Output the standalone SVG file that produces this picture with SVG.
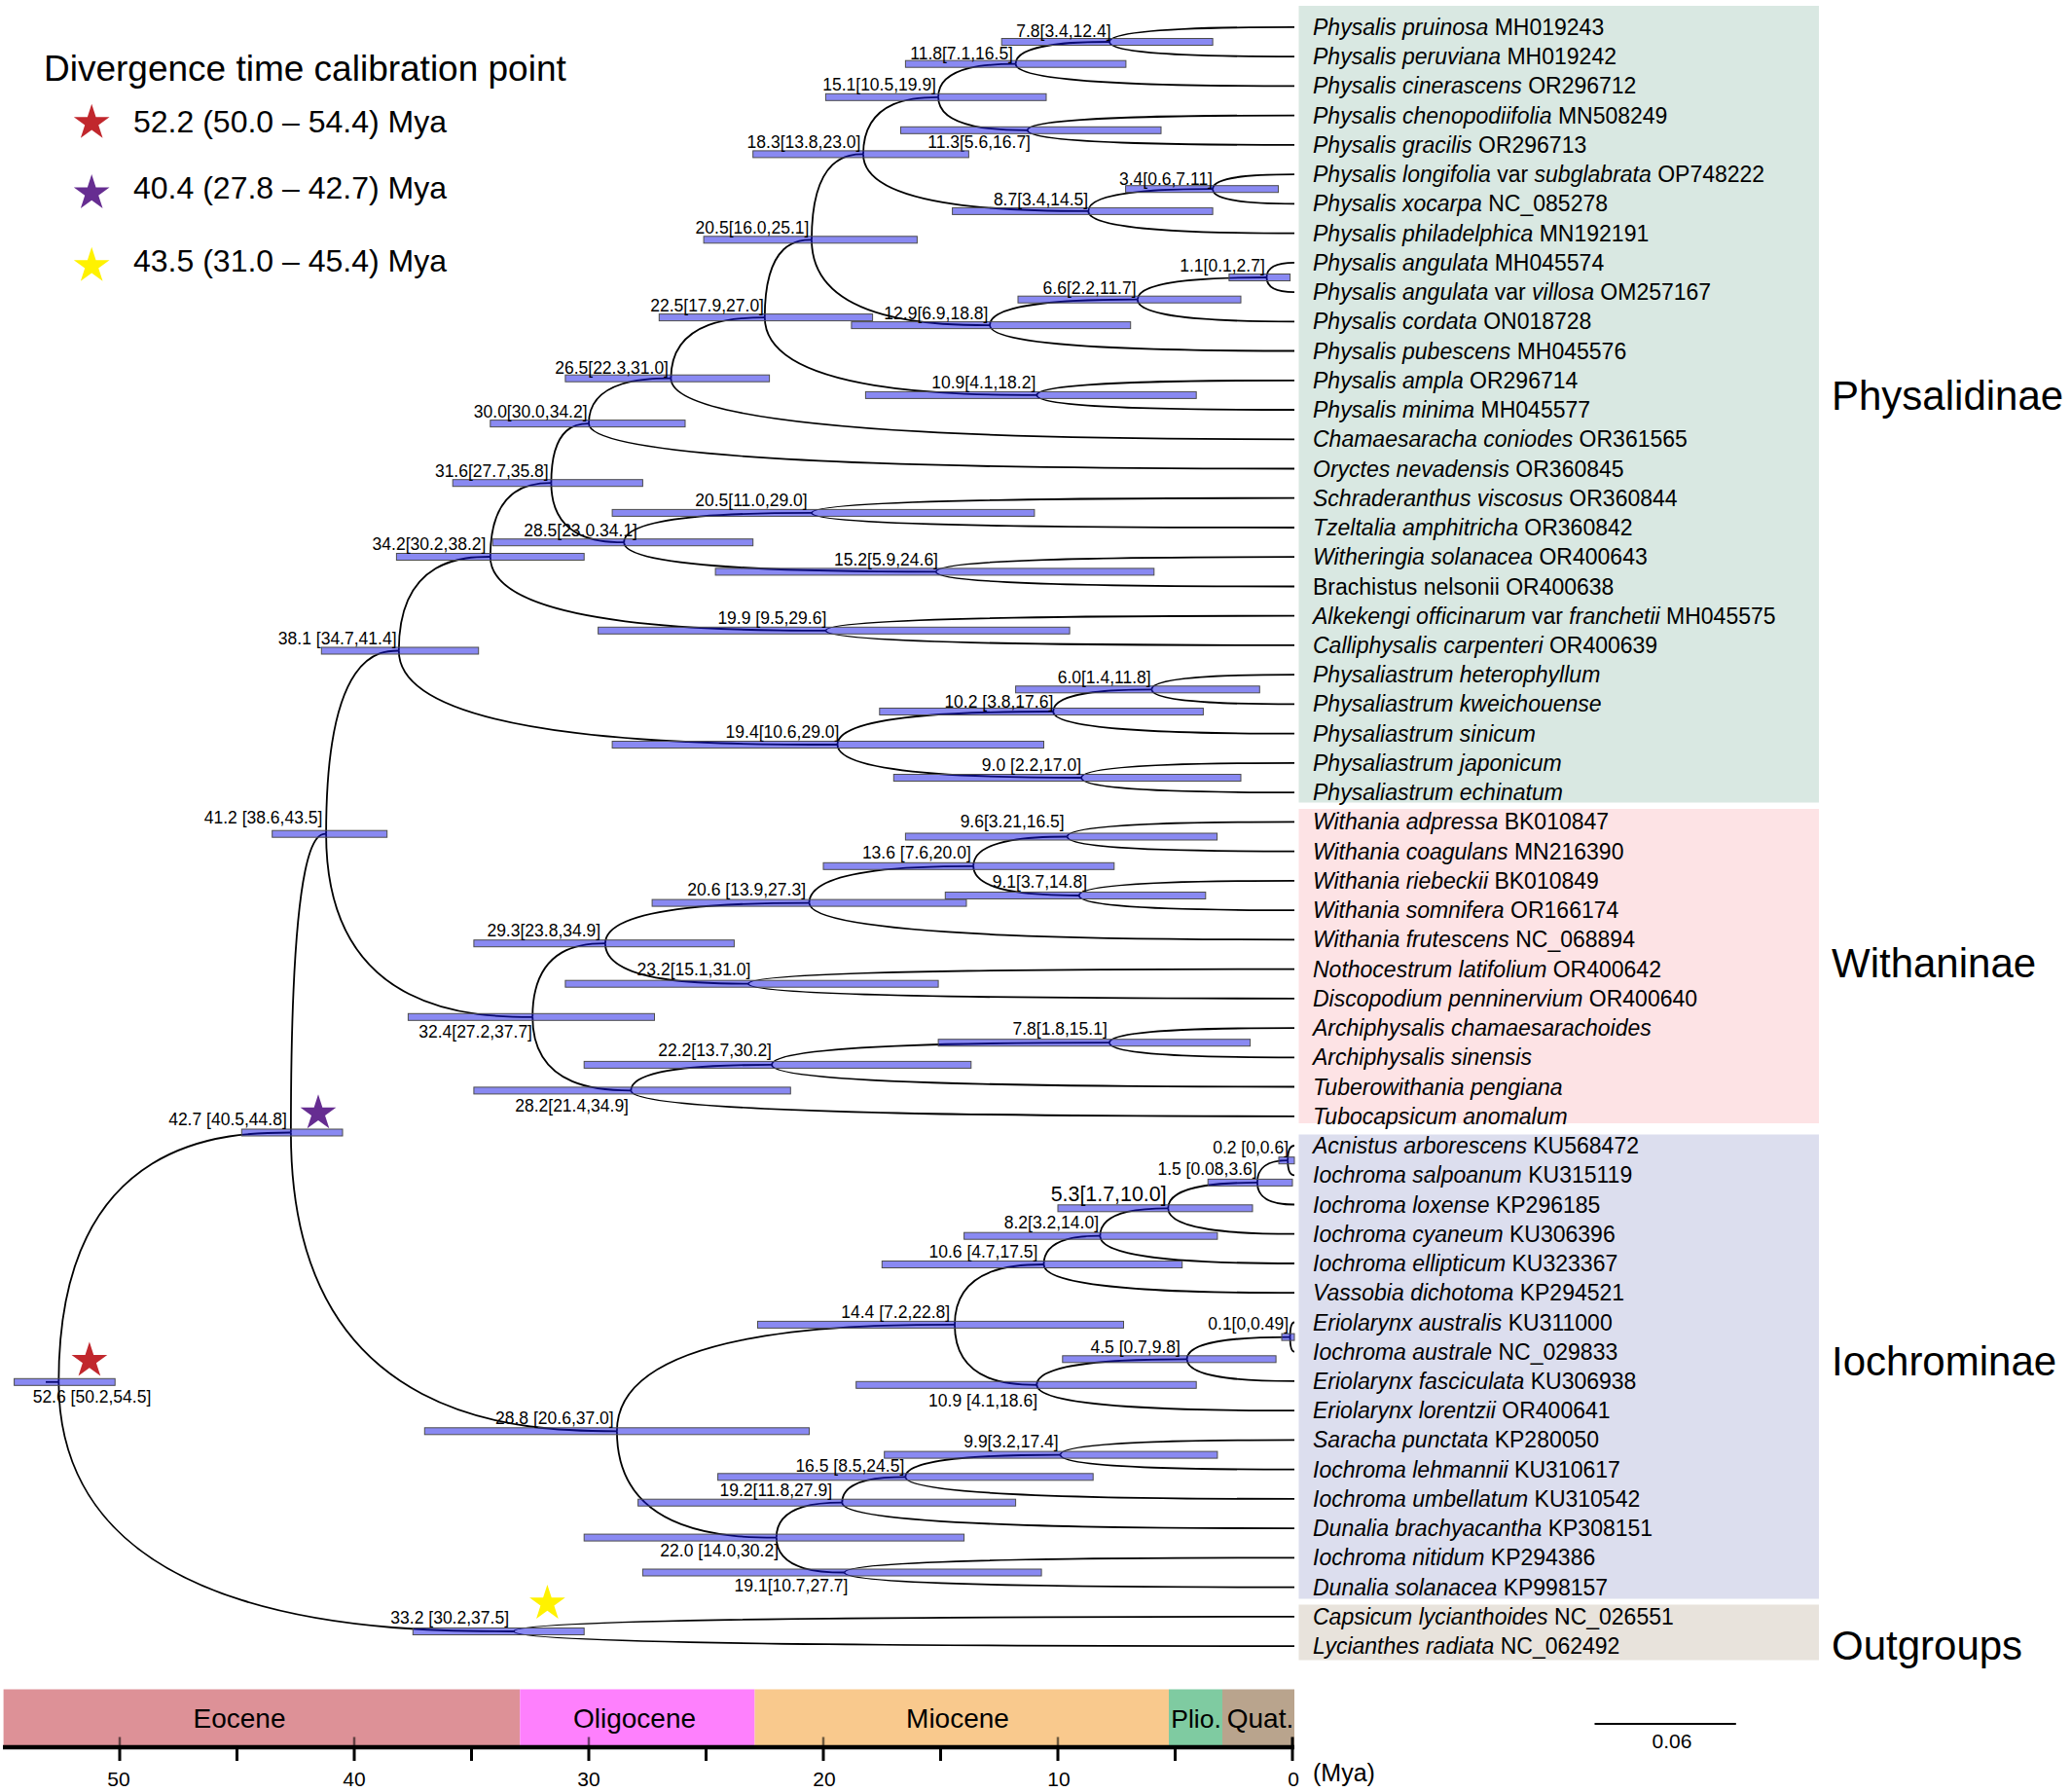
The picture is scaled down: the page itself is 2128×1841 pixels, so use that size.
<svg xmlns="http://www.w3.org/2000/svg" width="2128" height="1841" viewBox="0 0 2128 1841">
<defs>
<style>
text{font-family:"Liberation Sans",Arial,sans-serif;fill:#000}
.leaf{font-size:23px}
.i{font-style:italic}
.lab{font-size:17.5px;text-anchor:end}
.clade{font-size:42px}
.br{fill:none;stroke:#000;stroke-width:1.8}
.bar{fill:#1414e6;fill-opacity:0.5;stroke:#4d4d4d;stroke-width:1}
.ep{font-size:28px;text-anchor:middle}
.tk{font-size:21px;text-anchor:middle}
.mj{stroke:#000;stroke-width:3}
.up{stroke:#000;stroke-opacity:0.55;stroke-width:2.5}
</style>
<polygon id="star" points="0,-19.3 4.33,-5.96 18.36,-5.96 7.01,2.28 11.34,15.61 0,7.37 -11.34,15.61 -7.01,2.28 -18.36,-5.96 -4.33,-5.96"/>
</defs>
<rect width="2128" height="1841" fill="#fff"/>
<g id="clade-boxes">
<rect x="1334.5" y="6" width="534.5" height="818.5" fill="#d9e8e2"/>
<rect x="1334.5" y="831" width="534.5" height="323" fill="#fde3e5"/>
<rect x="1334.5" y="1165.5" width="534.5" height="477" fill="#dcdeee"/>
<rect x="1334.5" y="1648.5" width="534.5" height="57" fill="#e8e3dc"/>
</g>
<g id="connectors">
<path class="br" d="M1140 43 C1140 27.9 1280.6 27.9 1330 27.9"/>
<path class="br" d="M1140 43 C1140 58.1 1280.6 58.1 1330 58.1"/>
<path class="br" d="M1043.6 65.7 C1043.6 43 1114.9 43 1140 43"/>
<path class="br" d="M1043.6 65.7 C1043.6 88.4 1255.5 88.4 1330 88.4"/>
<path class="br" d="M1055.7 133.8 C1055.7 118.6 1258.7 118.6 1330 118.6"/>
<path class="br" d="M1055.7 133.8 C1055.7 148.9 1258.7 148.9 1330 148.9"/>
<path class="br" d="M964.1 99.8 C964.1 65.7 1022.9 65.7 1043.6 65.7"/>
<path class="br" d="M964.1 99.8 C964.1 133.8 1031.9 133.8 1055.7 133.8"/>
<path class="br" d="M1246.1 194.2 C1246.1 179.1 1308.2 179.1 1330 179.1"/>
<path class="br" d="M1246.1 194.2 C1246.1 209.3 1308.2 209.3 1330 209.3"/>
<path class="br" d="M1118.3 216.9 C1118.3 194.2 1212.9 194.2 1246.1 194.2"/>
<path class="br" d="M1118.3 216.9 C1118.3 239.6 1275 239.6 1330 239.6"/>
<path class="br" d="M887 158.4 C887 99.8 944.1 99.8 964.1 99.8"/>
<path class="br" d="M887 158.4 C887 216.9 1058.2 216.9 1118.3 216.9"/>
<path class="br" d="M1301.5 285 C1301.5 269.8 1322.6 269.8 1330 269.8"/>
<path class="br" d="M1301.5 285 C1301.5 300.1 1322.6 300.1 1330 300.1"/>
<path class="br" d="M1168.9 307.7 C1168.9 285 1267 285 1301.5 285"/>
<path class="br" d="M1168.9 307.7 C1168.9 330.3 1288.1 330.3 1330 330.3"/>
<path class="br" d="M1017.1 334.1 C1017.1 307.7 1129.4 307.7 1168.9 307.7"/>
<path class="br" d="M1017.1 334.1 C1017.1 360.5 1248.6 360.5 1330 360.5"/>
<path class="br" d="M834 246.3 C834 158.4 873.2 158.4 887 158.4"/>
<path class="br" d="M834 246.3 C834 334.1 969.5 334.1 1017.1 334.1"/>
<path class="br" d="M1065.3 405.9 C1065.3 390.8 1261.2 390.8 1330 390.8"/>
<path class="br" d="M1065.3 405.9 C1065.3 421 1261.2 421 1330 421"/>
<path class="br" d="M785.8 326.1 C785.8 246.3 821.5 246.3 834 246.3"/>
<path class="br" d="M785.8 326.1 C785.8 405.9 992.6 405.9 1065.3 405.9"/>
<path class="br" d="M689.4 388.7 C689.4 326.1 760.7 326.1 785.8 326.1"/>
<path class="br" d="M689.4 388.7 C689.4 451.3 1163.4 451.3 1330 451.3"/>
<path class="br" d="M605 435.1 C605 388.7 667.5 388.7 689.4 388.7"/>
<path class="br" d="M605 435.1 C605 481.5 1141.5 481.5 1330 481.5"/>
<path class="br" d="M834 526.9 C834 511.7 1201 511.7 1330 511.7"/>
<path class="br" d="M834 526.9 C834 542 1201 542 1330 542"/>
<path class="br" d="M961.7 587.4 C961.7 572.2 1234.2 572.2 1330 572.2"/>
<path class="br" d="M961.7 587.4 C961.7 602.5 1234.2 602.5 1330 602.5"/>
<path class="br" d="M641.2 557.2 C641.2 526.9 783.9 526.9 834 526.9"/>
<path class="br" d="M641.2 557.2 C641.2 587.4 878.4 587.4 961.7 587.4"/>
<path class="br" d="M566.4 496.2 C566.4 435.1 595 435.1 605 435.1"/>
<path class="br" d="M566.4 496.2 C566.4 557.2 621.8 557.2 641.2 557.2"/>
<path class="br" d="M848.4 647.8 C848.4 632.7 1204.8 632.7 1330 632.7"/>
<path class="br" d="M848.4 647.8 C848.4 662.9 1204.8 662.9 1330 662.9"/>
<path class="br" d="M503.8 572 C503.8 496.2 550.1 496.2 566.4 496.2"/>
<path class="br" d="M503.8 572 C503.8 647.8 758.8 647.8 848.4 647.8"/>
<path class="br" d="M1183.4 708.3 C1183.4 693.2 1291.9 693.2 1330 693.2"/>
<path class="br" d="M1183.4 708.3 C1183.4 723.4 1291.9 723.4 1330 723.4"/>
<path class="br" d="M1082.2 731 C1082.2 708.3 1157.1 708.3 1183.4 708.3"/>
<path class="br" d="M1082.2 731 C1082.2 753.7 1265.6 753.7 1330 753.7"/>
<path class="br" d="M1111.1 799 C1111.1 783.9 1273.1 783.9 1330 783.9"/>
<path class="br" d="M1111.1 799 C1111.1 814.1 1273.1 814.1 1330 814.1"/>
<path class="br" d="M860.5 765 C860.5 731 1024.6 731 1082.2 731"/>
<path class="br" d="M860.5 765 C860.5 799 1045.9 799 1111.1 799"/>
<path class="br" d="M409.8 668.5 C409.8 572 479.4 572 503.8 572"/>
<path class="br" d="M409.8 668.5 C409.8 765 743.3 765 860.5 765"/>
<path class="br" d="M1096.6 859.5 C1096.6 844.4 1269.3 844.4 1330 844.4"/>
<path class="br" d="M1096.6 859.5 C1096.6 874.6 1269.3 874.6 1330 874.6"/>
<path class="br" d="M1108.7 920 C1108.7 904.9 1272.5 904.9 1330 904.9"/>
<path class="br" d="M1108.7 920 C1108.7 935.1 1272.5 935.1 1330 935.1"/>
<path class="br" d="M1000.2 889.8 C1000.2 859.5 1071.5 859.5 1096.6 859.5"/>
<path class="br" d="M1000.2 889.8 C1000.2 920 1080.5 920 1108.7 920"/>
<path class="br" d="M831.5 927.6 C831.5 889.8 956.3 889.8 1000.2 889.8"/>
<path class="br" d="M831.5 927.6 C831.5 965.3 1200.4 965.3 1330 965.3"/>
<path class="br" d="M768.9 1010.7 C768.9 995.6 1184.1 995.6 1330 995.6"/>
<path class="br" d="M768.9 1010.7 C768.9 1025.8 1184.1 1025.8 1330 1025.8"/>
<path class="br" d="M621.9 969.2 C621.9 927.6 777 927.6 831.5 927.6"/>
<path class="br" d="M621.9 969.2 C621.9 1010.7 730.7 1010.7 768.9 1010.7"/>
<path class="br" d="M1140 1071.2 C1140 1056.1 1280.6 1056.1 1330 1056.1"/>
<path class="br" d="M1140 1071.2 C1140 1086.3 1280.6 1086.3 1330 1086.3"/>
<path class="br" d="M793 1093.9 C793 1071.2 1049.8 1071.2 1140 1071.2"/>
<path class="br" d="M793 1093.9 C793 1116.5 1190.4 1116.5 1330 1116.5"/>
<path class="br" d="M648.4 1120.4 C648.4 1093.9 755.4 1093.9 793 1093.9"/>
<path class="br" d="M648.4 1120.4 C648.4 1146.8 1152.8 1146.8 1330 1146.8"/>
<path class="br" d="M547.2 1044.8 C547.2 969.2 602.5 969.2 621.9 969.2"/>
<path class="br" d="M547.2 1044.8 C547.2 1120.4 622.1 1120.4 648.4 1120.4"/>
<path class="br" d="M335.1 856.7 C335.1 668.5 390.4 668.5 409.8 668.5"/>
<path class="br" d="M335.1 856.7 C335.1 1044.8 492.1 1044.8 547.2 1044.8"/>
<path class="br" d="M1323.2 1192.2 C1323.2 1177 1328.2 1177 1330 1177"/>
<path class="br" d="M1323.2 1192.2 C1323.2 1207.3 1328.2 1207.3 1330 1207.3"/>
<path class="br" d="M1291.9 1214.9 C1291.9 1192.2 1315.1 1192.2 1323.2 1192.2"/>
<path class="br" d="M1291.9 1214.9 C1291.9 1237.5 1320.1 1237.5 1330 1237.5"/>
<path class="br" d="M1200.3 1241.3 C1200.3 1214.9 1268.1 1214.9 1291.9 1214.9"/>
<path class="br" d="M1200.3 1241.3 C1200.3 1267.7 1296.3 1267.7 1330 1267.7"/>
<path class="br" d="M1130.4 1269.7 C1130.4 1241.3 1182.1 1241.3 1200.3 1241.3"/>
<path class="br" d="M1130.4 1269.7 C1130.4 1298 1278.1 1298 1330 1298"/>
<path class="br" d="M1072.5 1299 C1072.5 1269.7 1115.3 1269.7 1130.4 1269.7"/>
<path class="br" d="M1072.5 1299 C1072.5 1328.2 1263.1 1328.2 1330 1328.2"/>
<path class="br" d="M1325.6 1373.6 C1325.6 1358.5 1328.9 1358.5 1330 1358.5"/>
<path class="br" d="M1325.6 1373.6 C1325.6 1388.7 1328.9 1388.7 1330 1388.7"/>
<path class="br" d="M1219.6 1396.3 C1219.6 1373.6 1298 1373.6 1325.6 1373.6"/>
<path class="br" d="M1219.6 1396.3 C1219.6 1418.9 1301.3 1418.9 1330 1418.9"/>
<path class="br" d="M1065.3 1422.8 C1065.3 1396.3 1179.5 1396.3 1219.6 1396.3"/>
<path class="br" d="M1065.3 1422.8 C1065.3 1449.2 1261.2 1449.2 1330 1449.2"/>
<path class="br" d="M981 1360.9 C981 1299 1048.7 1299 1072.5 1299"/>
<path class="br" d="M981 1360.9 C981 1422.8 1043.4 1422.8 1065.3 1422.8"/>
<path class="br" d="M1089.4 1494.6 C1089.4 1479.4 1267.4 1479.4 1330 1479.4"/>
<path class="br" d="M1089.4 1494.6 C1089.4 1509.7 1267.4 1509.7 1330 1509.7"/>
<path class="br" d="M930.4 1517.3 C930.4 1494.6 1048.1 1494.6 1089.4 1494.6"/>
<path class="br" d="M930.4 1517.3 C930.4 1539.9 1226.1 1539.9 1330 1539.9"/>
<path class="br" d="M865.3 1543.7 C865.3 1517.3 913.5 1517.3 930.4 1517.3"/>
<path class="br" d="M865.3 1543.7 C865.3 1570.1 1209.2 1570.1 1330 1570.1"/>
<path class="br" d="M867.7 1615.5 C867.7 1600.4 1209.8 1600.4 1330 1600.4"/>
<path class="br" d="M867.7 1615.5 C867.7 1630.6 1209.8 1630.6 1330 1630.6"/>
<path class="br" d="M797.8 1579.6 C797.8 1543.7 847.8 1543.7 865.3 1543.7"/>
<path class="br" d="M797.8 1579.6 C797.8 1615.5 849.5 1615.5 867.7 1615.5"/>
<path class="br" d="M633.9 1470.3 C633.9 1360.9 890.8 1360.9 981 1360.9"/>
<path class="br" d="M633.9 1470.3 C633.9 1579.6 755.2 1579.6 797.8 1579.6"/>
<path class="br" d="M298.9 1163.5 C298.9 856.7 325.7 856.7 335.1 856.7"/>
<path class="br" d="M298.9 1163.5 C298.9 1470.3 546.8 1470.3 633.9 1470.3"/>
<path class="br" d="M527.9 1676 C527.9 1660.9 1121.5 1660.9 1330 1660.9"/>
<path class="br" d="M527.9 1676 C527.9 1691.1 1121.5 1691.1 1330 1691.1"/>
<path class="br" d="M60.3 1419.8 C60.3 1163.5 236.9 1163.5 298.9 1163.5"/>
<path class="br" d="M60.3 1419.8 C60.3 1676 406.3 1676 527.9 1676"/>
<path class="br" d="M47 1419.8 H60.3"/>
</g>
<g id="nodes">
<g id="n7-8a"><rect class="bar" x="1029.2" y="39.5" width="216.9" height="7"/><text class="lab" x="1141.5" y="38.4">7.8[3.4,12.4]</text></g>
<g id="n11-8"><rect class="bar" x="930.4" y="62.2" width="226.5" height="7"/><text class="lab" x="1041" y="60.5">11.8[7.1,16.5]</text></g>
<g id="n11-3"><rect class="bar" x="925.5" y="130.3" width="267.5" height="7"/><text class="lab" x="1059" y="152.2">11.3[5.6,16.7]</text></g>
<g id="n15-1"><rect class="bar" x="848.4" y="96.3" width="226.6" height="7"/><text class="lab" x="962" y="93.3">15.1[10.5,19.9]</text></g>
<g id="n3-4"><rect class="bar" x="1156.6" y="190.7" width="156.9" height="7"/><text class="lab" x="1246" y="189.8">3.4[0.6,7.11]</text></g>
<g id="n8-7"><rect class="bar" x="978.6" y="213.4" width="267.5" height="7"/><text class="lab" x="1118.2" y="210.7">8.7[3.4,14.5]</text></g>
<g id="n18-3"><rect class="bar" x="773.7" y="154.9" width="221.7" height="7"/><text class="lab" x="884.4" y="152.2">18.3[13.8,23.0]</text></g>
<g id="n1-1"><rect class="bar" x="1262.9" y="281.5" width="62.7" height="7"/><text class="lab" x="1299.8" y="278.8">1.1[0.1,2.7]</text></g>
<g id="n6-6"><rect class="bar" x="1046" y="304.2" width="229" height="7"/><text class="lab" x="1167.6" y="301.7">6.6[2.2,11.7]</text></g>
<g id="n12-9"><rect class="bar" x="874.9" y="330.6" width="286.8" height="7"/><text class="lab" x="1015.4" y="328.2">12.9[6.9,18.8]</text></g>
<g id="n20-5a"><rect class="bar" x="723.1" y="242.8" width="219.3" height="7"/><text class="lab" x="831.4" y="240.4">20.5[16.0,25.1]</text></g>
<g id="n10-9a"><rect class="bar" x="889.4" y="402.4" width="339.8" height="7"/><text class="lab" x="1064.3" y="399.4">10.9[4.1,18.2]</text></g>
<g id="n22-5"><rect class="bar" x="677.3" y="322.6" width="219.3" height="7"/><text class="lab" x="785" y="319.5">22.5[17.9,27.0]</text></g>
<g id="n26-5"><rect class="bar" x="580.9" y="385.2" width="209.7" height="7"/><text class="lab" x="687" y="383.5">26.5[22.3,31.0]</text></g>
<g id="n30-0"><rect class="bar" x="503.8" y="431.6" width="200.2" height="7"/><text class="lab" x="603.6" y="429">30.0[30.0,34.2]</text></g>
<g id="n20-5b"><rect class="bar" x="629.1" y="523.4" width="433.8" height="7"/><text class="lab" x="829.7" y="520.3">20.5[11.0,29.0]</text></g>
<g id="n15-2"><rect class="bar" x="735.1" y="583.9" width="450.7" height="7"/><text class="lab" x="964" y="581">15.2[5.9,24.6]</text></g>
<g id="n28-5"><rect class="bar" x="506.2" y="553.7" width="267.5" height="7"/><text class="lab" x="655" y="550.8">28.5[23.0.34.1]</text></g>
<g id="n31-6"><rect class="bar" x="465.2" y="492.7" width="195.2" height="7"/><text class="lab" x="563.7" y="489.5">31.6[27.7,35.8]</text></g>
<g id="n19-9"><rect class="bar" x="614.6" y="644.3" width="484.5" height="7"/><text class="lab" x="849.3" y="640.8">19.9 [9.5,29.6]</text></g>
<g id="n34-2"><rect class="bar" x="407.4" y="568.5" width="192.8" height="7"/><text class="lab" x="499.4" y="564.6">34.2[30.2,38.2]</text></g>
<g id="n6-0"><rect class="bar" x="1043.6" y="704.8" width="250.7" height="7"/><text class="lab" x="1182.7" y="702">6.0[1.4,11.8]</text></g>
<g id="n10-2"><rect class="bar" x="903.8" y="727.5" width="332.6" height="7"/><text class="lab" x="1082.3" y="726.5">10.2 [3.8,17.6]</text></g>
<g id="n9-0"><rect class="bar" x="918.3" y="795.5" width="356.7" height="7"/><text class="lab" x="1111" y="791.8">9.0 [2.2,17.0]</text></g>
<g id="n19-4"><rect class="bar" x="629.1" y="761.5" width="443.4" height="7"/><text class="lab" x="862.4" y="758.3">19.4[10.6,29.0]</text></g>
<g id="n38-1"><rect class="bar" x="330.3" y="665" width="161.4" height="7"/><text class="lab" x="407.5" y="662">38.1 [34.7,41.4]</text></g>
<g id="n9-6"><rect class="bar" x="930.4" y="856" width="320.2" height="7"/><text class="lab" x="1093.7" y="850">9.6[3.21,16.5]</text></g>
<g id="n9-1"><rect class="bar" x="971.3" y="916.5" width="267.5" height="7"/><text class="lab" x="1117" y="912">9.1[3.7,14.8]</text></g>
<g id="n13-6"><rect class="bar" x="846" y="886.3" width="298.8" height="7"/><text class="lab" x="997.8" y="882.3">13.6 [7.6,20.0]</text></g>
<g id="n20-6"><rect class="bar" x="670.1" y="924.1" width="322.9" height="7"/><text class="lab" x="828" y="920.3">20.6 [13.9,27.3]</text></g>
<g id="n23-2"><rect class="bar" x="580.9" y="1007.2" width="383.2" height="7"/><text class="lab" x="771.4" y="1001.5">23.2[15.1,31.0]</text></g>
<g id="n29-3"><rect class="bar" x="486.9" y="965.7" width="267.5" height="7"/><text class="lab" x="617.2" y="962">29.3[23.8,34.9]</text></g>
<g id="n7-8b"><rect class="bar" x="964.1" y="1067.7" width="320.5" height="7"/><text class="lab" x="1137.8" y="1063">7.8[1.8,15.1]</text></g>
<g id="n22-2"><rect class="bar" x="600.2" y="1090.4" width="397.6" height="7"/><text class="lab" x="793" y="1084.5">22.2[13.7,30.2]</text></g>
<g id="n28-2"><rect class="bar" x="486.9" y="1116.9" width="325.4" height="7"/><text class="lab" x="646" y="1141.8">28.2[21.4,34.9]</text></g>
<g id="n32-4"><rect class="bar" x="419.4" y="1041.3" width="253.1" height="7"/><text class="lab" x="547" y="1065.5">32.4[27.2,37.7]</text></g>
<g id="n41-2"><rect class="bar" x="279.7" y="853.2" width="118" height="7"/><text class="lab" x="331.4" y="845.6">41.2 [38.6,43.5]</text></g>
<g id="n0-2"><rect class="bar" x="1314" y="1188.7" width="16" height="7"/><text class="lab" x="1324" y="1184.7">0.2 [0,0.6]</text></g>
<g id="n1-5"><rect class="bar" x="1241.2" y="1211.4" width="86.8" height="7"/><text class="lab" x="1291.6" y="1206.7">1.5 [0.08,3.6]</text></g>
<g id="n5-3"><rect class="bar" x="1087" y="1237.8" width="200" height="7"/><text class="lab" x="1198.6" y="1233.5" style="font-size:21.4px">5.3[1.7,10.0]</text></g>
<g id="n8-2"><rect class="bar" x="990.6" y="1266.2" width="260.3" height="7"/><text class="lab" x="1129" y="1262">8.2[3.2,14.0]</text></g>
<g id="n10-6"><rect class="bar" x="906.3" y="1295.5" width="308.4" height="7"/><text class="lab" x="1066.4" y="1292">10.6 [4.7,17.5]</text></g>
<g id="n0-1"><rect class="bar" x="1317" y="1370.1" width="13" height="7"/><text class="lab" x="1324" y="1365.6">0.1[0,0.49]</text></g>
<g id="n4-5"><rect class="bar" x="1091.8" y="1392.8" width="219.3" height="7"/><text class="lab" x="1212.9" y="1390">4.5 [0.7,9.8]</text></g>
<g id="n10-9b"><rect class="bar" x="879.7" y="1419.3" width="349.5" height="7"/><text class="lab" x="1066" y="1445">10.9 [4.1,18.6]</text></g>
<g id="n14-4"><rect class="bar" x="778.5" y="1357.4" width="376" height="7"/><text class="lab" x="976.2" y="1354">14.4 [7.2,22.8]</text></g>
<g id="n9-9"><rect class="bar" x="908.7" y="1491.1" width="342.2" height="7"/><text class="lab" x="1087.6" y="1487.4">9.9[3.2,17.4]</text></g>
<g id="n16-5"><rect class="bar" x="737.6" y="1513.8" width="385.6" height="7"/><text class="lab" x="929.3" y="1512">16.5 [8.5,24.5]</text></g>
<g id="n19-2"><rect class="bar" x="655.6" y="1540.2" width="388" height="7"/><text class="lab" x="855" y="1537">19.2[11.8,27.9]</text></g>
<g id="n19-1"><rect class="bar" x="660.4" y="1612" width="409.7" height="7"/><text class="lab" x="871.4" y="1635.4">19.1[10.7,27.7]</text></g>
<g id="n22-0"><rect class="bar" x="600.2" y="1576.1" width="390.4" height="7"/><text class="lab" x="800" y="1598.6">22.0 [14.0,30.2]</text></g>
<g id="n28-8"><rect class="bar" x="436.3" y="1466.8" width="395.2" height="7"/><text class="lab" x="630.7" y="1462.9">28.8 [20.6,37.0]</text></g>
<g id="n42-7"><rect class="bar" x="248.3" y="1160" width="103.7" height="7"/><text class="lab" x="294.8" y="1155.7">42.7 [40.5,44.8]</text></g>
<g id="n33-2"><rect class="bar" x="424.3" y="1672.5" width="175.9" height="7"/><text class="lab" x="523" y="1668">33.2 [30.2,37.5]</text></g>
<g id="n52-6"><rect class="bar" x="14.6" y="1416.3" width="103.6" height="7"/><text class="lab" x="155.3" y="1441">52.6 [50.2,54.5]</text></g>
</g>
<g id="calibration-stars">
<use href="#star" x="91.9" y="1397.9" fill="#c1272d"/>
<use href="#star" x="327" y="1143.6" fill="#662d91"/>
<use href="#star" x="562.4" y="1647.3" fill="#fff200"/>
</g>
<g id="leaves" class="leaf">
<g id="leaf01"><text class="leaf" x="1349" y="35.9"><tspan class="i">Physalis pruinosa</tspan> MH019243</text></g>
<g id="leaf02"><text class="leaf" x="1349" y="66.1"><tspan class="i">Physalis peruviana</tspan> MH019242</text></g>
<g id="leaf03"><text class="leaf" x="1349" y="96.4"><tspan class="i">Physalis cinerascens</tspan> OR296712</text></g>
<g id="leaf04"><text class="leaf" x="1349" y="126.6"><tspan class="i">Physalis chenopodiifolia</tspan> MN508249</text></g>
<g id="leaf05"><text class="leaf" x="1349" y="156.9"><tspan class="i">Physalis gracilis</tspan> OR296713</text></g>
<g id="leaf06"><text class="leaf" x="1349" y="187.1"><tspan class="i">Physalis longifolia</tspan> var <tspan class="i">subglabrata</tspan> OP748222</text></g>
<g id="leaf07"><text class="leaf" x="1349" y="217.3"><tspan class="i">Physalis xocarpa</tspan> NC_085278</text></g>
<g id="leaf08"><text class="leaf" x="1349" y="247.6"><tspan class="i">Physalis philadelphica</tspan> MN192191</text></g>
<g id="leaf09"><text class="leaf" x="1349" y="277.8"><tspan class="i">Physalis angulata</tspan> MH045574</text></g>
<g id="leaf10"><text class="leaf" x="1349" y="308.1"><tspan class="i">Physalis angulata</tspan> var <tspan class="i">villosa</tspan> OM257167</text></g>
<g id="leaf11"><text class="leaf" x="1349" y="338.3"><tspan class="i">Physalis cordata</tspan> ON018728</text></g>
<g id="leaf12"><text class="leaf" x="1349" y="368.5"><tspan class="i">Physalis pubescens</tspan> MH045576</text></g>
<g id="leaf13"><text class="leaf" x="1349" y="398.8"><tspan class="i">Physalis ampla</tspan> OR296714</text></g>
<g id="leaf14"><text class="leaf" x="1349" y="429"><tspan class="i">Physalis minima</tspan> MH045577</text></g>
<g id="leaf15"><text class="leaf" x="1349" y="459.3"><tspan class="i">Chamaesaracha coniodes</tspan> OR361565</text></g>
<g id="leaf16"><text class="leaf" x="1349" y="489.5"><tspan class="i">Oryctes nevadensis</tspan> OR360845</text></g>
<g id="leaf17"><text class="leaf" x="1349" y="519.7"><tspan class="i">Schraderanthus viscosus</tspan> OR360844</text></g>
<g id="leaf18"><text class="leaf" x="1349" y="550"><tspan class="i">Tzeltalia amphitricha</tspan> OR360842</text></g>
<g id="leaf19"><text class="leaf" x="1349" y="580.2"><tspan class="i">Witheringia solanacea</tspan> OR400643</text></g>
<g id="leaf20"><text class="leaf" x="1349" y="610.5">Brachistus nelsonii OR400638</text></g>
<g id="leaf21"><text class="leaf" x="1349" y="640.7"><tspan class="i">Alkekengi officinarum</tspan> var <tspan class="i">franchetii</tspan> MH045575</text></g>
<g id="leaf22"><text class="leaf" x="1349" y="670.9"><tspan class="i">Calliphysalis carpenteri</tspan> OR400639</text></g>
<g id="leaf23"><text class="leaf i" x="1349" y="701.2">Physaliastrum heterophyllum</text></g>
<g id="leaf24"><text class="leaf i" x="1349" y="731.4">Physaliastrum kweichouense</text></g>
<g id="leaf25"><text class="leaf i" x="1349" y="761.7">Physaliastrum sinicum</text></g>
<g id="leaf26"><text class="leaf i" x="1349" y="791.9">Physaliastrum japonicum</text></g>
<g id="leaf27"><text class="leaf i" x="1349" y="822.1">Physaliastrum echinatum</text></g>
<g id="leaf28"><text class="leaf" x="1349" y="852.4"><tspan class="i">Withania adpressa</tspan> BK010847</text></g>
<g id="leaf29"><text class="leaf" x="1349" y="882.6"><tspan class="i">Withania coagulans</tspan> MN216390</text></g>
<g id="leaf30"><text class="leaf" x="1349" y="912.9"><tspan class="i">Withania riebeckii</tspan> BK010849</text></g>
<g id="leaf31"><text class="leaf" x="1349" y="943.1"><tspan class="i">Withania somnifera</tspan> OR166174</text></g>
<g id="leaf32"><text class="leaf" x="1349" y="973.3"><tspan class="i">Withania frutescens</tspan> NC_068894</text></g>
<g id="leaf33"><text class="leaf" x="1349" y="1003.6"><tspan class="i">Nothocestrum latifolium</tspan> OR400642</text></g>
<g id="leaf34"><text class="leaf" x="1349" y="1033.8"><tspan class="i">Discopodium penninervium</tspan> OR400640</text></g>
<g id="leaf35"><text class="leaf i" x="1349" y="1064.1">Archiphysalis chamaesarachoides</text></g>
<g id="leaf36"><text class="leaf i" x="1349" y="1094.3">Archiphysalis sinensis</text></g>
<g id="leaf37"><text class="leaf i" x="1349" y="1124.5">Tuberowithania pengiana</text></g>
<g id="leaf38"><text class="leaf i" x="1349" y="1154.8">Tubocapsicum anomalum</text></g>
<g id="leaf39"><text class="leaf" x="1349" y="1185"><tspan class="i">Acnistus arborescens</tspan> KU568472</text></g>
<g id="leaf40"><text class="leaf" x="1349" y="1215.3"><tspan class="i">Iochroma salpoanum</tspan> KU315119</text></g>
<g id="leaf41"><text class="leaf" x="1349" y="1245.5"><tspan class="i">Iochroma loxense</tspan> KP296185</text></g>
<g id="leaf42"><text class="leaf" x="1349" y="1275.7"><tspan class="i">Iochroma cyaneum</tspan> KU306396</text></g>
<g id="leaf43"><text class="leaf" x="1349" y="1306"><tspan class="i">Iochroma ellipticum</tspan> KU323367</text></g>
<g id="leaf44"><text class="leaf" x="1349" y="1336.2"><tspan class="i">Vassobia dichotoma</tspan> KP294521</text></g>
<g id="leaf45"><text class="leaf" x="1349" y="1366.5"><tspan class="i">Eriolarynx australis</tspan> KU311000</text></g>
<g id="leaf46"><text class="leaf" x="1349" y="1396.7"><tspan class="i">Iochroma australe</tspan> NC_029833</text></g>
<g id="leaf47"><text class="leaf" x="1349" y="1426.9"><tspan class="i">Eriolarynx fasciculata</tspan> KU306938</text></g>
<g id="leaf48"><text class="leaf" x="1349" y="1457.2"><tspan class="i">Eriolarynx lorentzii</tspan> OR400641</text></g>
<g id="leaf49"><text class="leaf" x="1349" y="1487.4"><tspan class="i">Saracha punctata</tspan> KP280050</text></g>
<g id="leaf50"><text class="leaf" x="1349" y="1517.7"><tspan class="i">Iochroma lehmannii</tspan> KU310617</text></g>
<g id="leaf51"><text class="leaf" x="1349" y="1547.9"><tspan class="i">Iochroma umbellatum</tspan> KU310542</text></g>
<g id="leaf52"><text class="leaf" x="1349" y="1578.1"><tspan class="i">Dunalia brachyacantha</tspan> KP308151</text></g>
<g id="leaf53"><text class="leaf" x="1349" y="1608.4"><tspan class="i">Iochroma nitidum</tspan> KP294386</text></g>
<g id="leaf54"><text class="leaf" x="1349" y="1638.6"><tspan class="i">Dunalia solanacea</tspan> KP998157</text></g>
<g id="leaf55"><text class="leaf" x="1349" y="1668.9"><tspan class="i">Capsicum lycianthoides</tspan> NC_026551</text></g>
<g id="leaf56"><text class="leaf" x="1349" y="1699.1"><tspan class="i">Lycianthes radiata</tspan> NC_062492</text></g>
</g>
<g id="clade-labels">
<text class="clade" x="1882" y="421">Physalidinae</text>
<text class="clade" x="1882" y="1004">Withaninae</text>
<text class="clade" x="1882" y="1412.6">Iochrominae</text>
<text class="clade" x="1882" y="1705">Outgroups</text>
</g>
<g id="legend">
<text x="45" y="83" style="font-size:37px">Divergence time calibration point</text>
<use href="#star" x="94.2" y="126.1" fill="#c1272d"/>
<use href="#star" x="94.2" y="198.4" fill="#662d91"/>
<use href="#star" x="94.2" y="273.1" fill="#fff200"/>
<text x="137" y="136.4" style="font-size:32px">52.2 (50.0 – 54.4) Mya</text>
<text x="137" y="203.6" style="font-size:32px">40.4 (27.8 – 42.7) Mya</text>
<text x="137" y="278.8" style="font-size:32px">43.5 (31.0 – 45.4) Mya</text>
</g>
<g id="time-axis">
<rect x="3.6" y="1735.5" width="530.7" height="59.5" fill="#dd9197"/>
<rect x="534.3" y="1735.5" width="241.2" height="59.5" fill="#fe80fd"/>
<rect x="775.5" y="1735.5" width="425.5" height="59.5" fill="#f9c98d"/>
<rect x="1201" y="1735.5" width="55" height="59.5" fill="#7fcba1"/>
<rect x="1256" y="1735.5" width="74" height="59.5" fill="#b9a48d"/>
<text class="ep" x="246" y="1775">Eocene</text>
<text class="ep" x="652" y="1775">Oligocene</text>
<text class="ep" x="984" y="1775">Miocene</text>
<text class="ep" x="1229" y="1775" style="font-size:26.5px">Plio.</text>
<text class="ep" x="1295" y="1775">Quat.</text>
<g>
<line class="up" x1="123" y1="1784.5" x2="123" y2="1794"/>
<line class="up" x1="364" y1="1784.5" x2="364" y2="1794"/>
<line class="up" x1="605" y1="1784.5" x2="605" y2="1794"/>
<line class="up" x1="846" y1="1784.5" x2="846" y2="1794"/>
<line class="up" x1="1087" y1="1784.5" x2="1087" y2="1794"/>
<line class="mj" x1="1328" y1="1784.5" x2="1328" y2="1794"/>
</g>
<line x1="3" y1="1795" x2="1330" y2="1795" stroke="#000" stroke-width="4.5"/>
<g>
<line class="mj" x1="123" y1="1795" x2="123" y2="1809"/>
<line class="mj" x1="364" y1="1795" x2="364" y2="1809"/>
<line class="mj" x1="605" y1="1795" x2="605" y2="1809"/>
<line class="mj" x1="846" y1="1795" x2="846" y2="1809"/>
<line class="mj" x1="1087" y1="1795" x2="1087" y2="1809"/>
<line class="mj" x1="1328" y1="1795" x2="1328" y2="1809"/>
<line class="mj" x1="243.5" y1="1797" x2="243.5" y2="1809"/>
<line class="mj" x1="484.5" y1="1797" x2="484.5" y2="1809"/>
<line class="mj" x1="725.5" y1="1797" x2="725.5" y2="1809"/>
<line class="mj" x1="966.5" y1="1797" x2="966.5" y2="1809"/>
<line class="mj" x1="1207.5" y1="1797" x2="1207.5" y2="1809"/>
</g>
<text class="tk" x="122" y="1835">50</text>
<text class="tk" x="364" y="1835">40</text>
<text class="tk" x="605" y="1835">30</text>
<text class="tk" x="847" y="1835">20</text>
<text class="tk" x="1088" y="1835">10</text>
<text class="tk" x="1329" y="1835">0</text>
<text x="1349" y="1830" style="font-size:25px">(Mya)</text>
</g>
<g id="scale-bar">
<line x1="1638.5" y1="1771" x2="1783.8" y2="1771" stroke="#000" stroke-width="1.8"/>
<text x="1718" y="1796" style="font-size:21px;text-anchor:middle">0.06</text>
</g>
</svg>
